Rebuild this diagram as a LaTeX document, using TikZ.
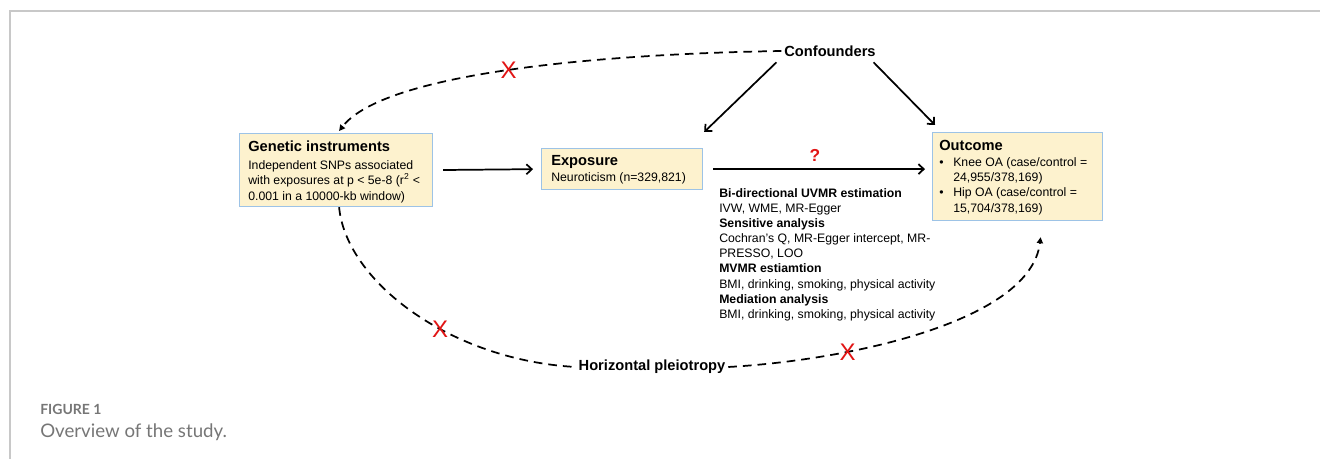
\documentclass[tikz,border=0pt]{standalone}
\usepackage{fontspec}
\setmainfont{Liberation Sans}
\newfontfamily\capfont{Lato}
\usetikzlibrary{arrows.meta}

\definecolor{boxfill}{RGB}{253,242,206}
\definecolor{boxline}{RGB}{157,195,230}
\definecolor{framegray}{RGB}{200,200,200}
\definecolor{crossred}{RGB}{225,20,20}
\definecolor{capgray}{RGB}{118,118,118}

\tikzset{
  studybox/.style={draw=boxline, fill=boxfill, line width=0.9pt, inner sep=0pt, anchor=north west},
  boxtext/.style={inner sep=0pt, anchor=north west, align=left, font=\fontsize{9.2}{11.6}\selectfont},
  bigword/.style={inner sep=2pt, font=\fontsize{11}{13}\selectfont\bfseries},
  solidarrow/.style={line width=1.3pt, -{Straight Barb[length=4pt,width=7.5pt]}},
  dashline/.style={line width=1.3pt, dash pattern=on 6.5pt off 4.5pt},
  dasharrow/.style={dashline, -{Triangle[length=4.5pt,width=4.5pt]}},
  crossmark/.style={text=crossred, inner sep=0pt, font=\fontsize{18}{18}\selectfont},
}

\begin{document}
\begin{tikzpicture}[x=0.75pt,y=-0.75pt]
        % page frame
        \useasboundingbox (0,0) rectangle (1320,459);
        \draw[framegray, line width=0.9pt] (10,459) -- (10,11) -- (1320,11);

        % genetic instruments box
        \node[studybox, minimum width=144.75pt, minimum height=54.75pt] (gen) at (239,133) {};
        \node[boxtext] (gen-text) at (248,140.5) {{\fontsize{11}{13}\selectfont\bfseries Genetic instruments}\\[2pt]
            Independent SNPs associated\\
            with exposures at p < 5e-8 (r\textsuperscript{2} <\\
            0.001 in a 10000-kb window)};
        % exposure box
        \node[studybox, minimum width=120.75pt, minimum height=30.75pt] (expo) at (541,148) {};
        \node[boxtext] (expo-text) at (551,155.5) {{\fontsize{11}{13}\selectfont\bfseries Exposure}\\[0.5pt]
            Neuroticism (n=329,821)};
        % outcome box
        \node[studybox, minimum width=127.5pt, minimum height=66pt] (outc) at (932,132) {};
        \node[boxtext] (outc-text) at (939,139.5) {{\fontsize{11}{13}\selectfont\bfseries Outcome}\\[0.4pt]
            \makebox[10.5pt][l]{\textbullet}Knee OA (case/control =\\
            \hspace*{10.5pt}24,955/378,169)\\
            \makebox[10.5pt][l]{\textbullet}Hip OA (case/control =\\
            \hspace*{10.5pt}15,704/378,169)};

        % the analyses under the main arrow
        \node[boxtext, font=\fontsize{9.2}{11.3}\selectfont] (methods) at (719,188.5) {\textbf{Bi-directional UVMR estimation}\\
            IVW, WME, MR-Egger\\
            \textbf{Sensitive analysis}\\
            Cochran's Q, MR-Egger intercept, MR-\\
            PRESSO, LOO\\
            \textbf{MVMR estiamtion}\\
            BMI, drinking, smoking, physical activity\\
            \textbf{Mediation analysis}\\
            BMI, drinking, smoking, physical activity};

        % free labels
        \node[bigword] (conf) at (830,51) {Confounders};
        \node[bigword] (pleio) at (652,367) {Horizontal pleiotropy};
        \node[text=crossred, inner sep=0pt, font=\fontsize{13}{13}\selectfont\bfseries] (query) at (815,155) {?};

        % solid arrows
        \draw[solidarrow, shorten <=7.5pt, shorten >=6pt] (gen.east) -- (expo.west);
        \draw[solidarrow, shorten <=7.5pt, shorten >=5.25pt] (expo.east) -- (expo.east -| outc.west);
        \draw[solidarrow] ([shift={(-5,3)}]conf.south west) -- ([shift={(1,-16)}]expo.north east);
        \draw[solidarrow] ([shift={(-5,3)}]conf.south east) -- ([shift={(3,-7)}]outc.north west);

        % dashed paths, crossed out
        \coordinate (outc-tip) at ([shift={(23,16)}]outc.south);
        \draw[dasharrow] (conf.west) .. controls +(-183,3) and +(45,-58) .. ([shift={(3,-2)}]gen.north)
            node[crossmark, pos=0.5] (cross-top) {X};
        \draw[dashline] ([shift={(3,0)}]gen.south) .. controls +(7,74) and +(-126,-7) .. (pleio.west)
            node[crossmark, pos=0.6] (cross-left) {X};
        \draw[dasharrow] (pleio.east) .. controls +(122,-7) and +(-10,84) .. (outc-tip)
            node[crossmark, pos=0.3] (cross-right) {X};

        % caption
        \node[anchor=west, inner sep=0pt, text=capgray, font=\capfont\bfseries\fontsize{10.5}{12}\selectfont] (fig-label) at (40,409) {FIGURE 1};
        \node[anchor=west, inner sep=0pt, text=capgray, font=\capfont\fontsize{14}{16}\selectfont] (fig-title) at (40,432) {Overview of the study.};
\end{tikzpicture}
\end{document}
